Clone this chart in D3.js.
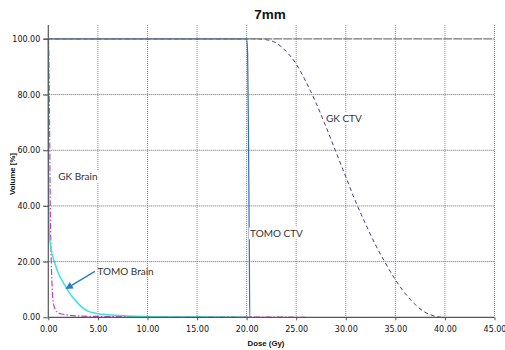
<!DOCTYPE html>
<html>
<head>
<meta charset="utf-8">
<script src="https://cdn.jsdelivr.net/npm/d3@7"></script>
<style>
  html, body { margin: 0; padding: 0; background: #fff; }
  svg { display: block; }
</style>
</head>
<body>
<svg id="chart" width="505" height="350"></svg>
<script>
// Dose-volume histogram, 7 mm case
const xTicks = [0, 5, 10, 15, 20, 25, 30, 35, 40, 45];
const yTicks = [0, 20, 40, 60, 80, 100];

const gkCtvDose = [0, 20, 21, 22, 23, 24, 25, 26, 27, 28, 29, 30, 31, 32, 33, 34, 35, 36, 37, 38, 39, 39.6];
const gkCtvVol  = [100, 100, 100, 99.7, 98.5, 95.5, 91, 84.5, 77, 68.5, 59.5, 50.5, 41.5, 33.5, 26, 19.5, 13.5, 8.5, 4.6, 1.8, 0.4, 0];

const tomoCtvDose = [0, 20.0, 20.1, 20.2, 20.28, 20.32, 20.5];
const tomoCtvVol  = [100, 100, 95, 60, 20, 0, 0];

const gkBrainDose = [0, 0.05, 0.1, 0.15, 0.2, 0.3, 0.4, 0.5, 0.7, 1.0, 1.5, 2.0, 3.0, 5.0, 10, 20, 26];
const gkBrainVol  = [100, 95, 80, 60, 40, 20, 10, 5.5, 2.8, 1.6, 1.1, 0.8, 0.5, 0.3, 0.2, 0.1, 0];

const tomoBrainDose = [0, 0.02, 0.05, 0.1, 0.2, 0.4, 0.7, 1.0, 1.5, 2.0, 2.5, 3.0, 3.5, 4.0, 5.0, 6.0, 8.0, 10, 14.5, 20];
const tomoBrainVol  = [100, 60, 35, 30, 26.5, 22.5, 19, 16, 12.5, 9.5, 7, 5, 3.3, 2.2, 1.3, 0.9, 0.5, 0.3, 0.1, 0];

const series = [
  { name: "GK CTV",     dose: gkCtvDose,     vol: gkCtvVol,     color: "#3c3c8c", width: 1,   dash: "4,3" },
  { name: "GK Brain",   dose: gkBrainDose,   vol: gkBrainVol,   color: "#c63fc6", width: 1.2, dash: "6,2,1.5,2" },
  { name: "TOMO Brain", dose: tomoBrainDose, vol: tomoBrainVol, color: "#3fe0e0", width: 1.5, dash: null },
  { name: "TOMO CTV",   dose: tomoCtvDose,   vol: tomoCtvVol,   color: "#2f6db5", width: 1.2, dash: null }
];

const svg = d3.select("#chart");
const plot = { left: 48.3, right: 494.5, top: 25, bottom: 317.3 };

const x = d3.scaleLinear().domain([0, 45]).range([plot.left, plot.right]);
const y = d3.scaleLinear().domain([0, 105]).range([plot.bottom, plot.top]);

// Vertical grid lines
svg.append("g")
  .selectAll("line")
  .data(xTicks.filter(d => d > 0))
  .join("line")
  .attr("x1", d => x(d)).attr("x2", d => x(d))
  .attr("y1", y(105)).attr("y2", y(0))
  .attr("stroke", "#8a8a8a")
  .attr("stroke-width", 1)
  .attr("stroke-dasharray", "1,1");

// Curves
const line = d3.line()
  .x(d => x(d[0]))
  .y(d => y(d[1]))
  .curve(d3.curveMonotoneX);

series.forEach(s => {
  const pts = s.dose.map((d, i) => [d, s.vol[i]]);
  svg.append("path")
    .datum(pts)
    .attr("d", line)
    .attr("fill", "none")
    .attr("stroke", s.color)
    .attr("stroke-width", s.width)
    .attr("stroke-dasharray", s.dash);
});

// Horizontal grid lines, drawn over the curves
svg.append("g")
  .selectAll("line")
  .data(yTicks.filter(d => d > 0))
  .join("line")
  .attr("x1", x(0) - 5).attr("x2", x(45))
  .attr("y1", d => y(d)).attr("y2", d => y(d))
  .attr("stroke", d => d === 100 ? "#777" : "#666")
  .attr("stroke-width", d => d === 100 ? 1.3 : 1)
  .attr("stroke-dasharray", d => d === 100 ? "9,1" : "1,1");

// Axes
const xAxis = d3.axisBottom(x).tickValues(xTicks).tickFormat(d3.format(".2f")).tickSize(3);
const yAxis = d3.axisLeft(y).tickValues(yTicks).tickFormat(d3.format(".2f")).tickSize(5);

const gx = svg.append("g").attr("transform", `translate(0,${y(0)})`).call(xAxis);
const gy = svg.append("g").attr("transform", `translate(${x(0)},0)`).call(yAxis);

[gx, gy].forEach(g => {
  g.select(".domain").attr("stroke", "#555").attr("stroke-width", 1.2);
  g.selectAll(".tick line").attr("stroke", "#555");
  g.selectAll("text")
    .attr("fill", "#111")
    .style("font-family", "DejaVu Sans, sans-serif")
    .style("font-size", "8px");
});
gx.select(".domain").attr("d", `M${x(0)},0H${x(45)}`);
gx.selectAll(".tick text").attr("dy", "1.05em");
gy.select(".domain").attr("d", `M0,${y(105)}V${y(0)}`);
gy.selectAll(".tick text").attr("x", -8);

// Curve labels
const labelFont = "Lato, 'Open Sans', sans-serif";
const labels = [
  { text: "GK CTV",   dose: 28.0, vol: 71.5 },
  { text: "GK Brain", dose: 1.0,  vol: 50.5 },
  { text: "TOMO CTV", dose: 20.35, vol: 30 }
];
labels.forEach(l => {
  const t = svg.append("text")
    .attr("x", x(l.dose)).attr("y", y(l.vol))
    .attr("dy", "0.35em")
    .attr("fill", "#333")
    .style("font-family", labelFont)
    .style("font-size", "10px")
    .text(l.text);
  const b = t.node().getBBox();
  svg.insert("rect", () => t.node())
    .attr("x", b.x - 1).attr("y", b.y)
    .attr("width", b.width + 2).attr("height", b.height)
    .attr("fill", "#fff");
});

// Arrow pointing at the TOMO Brain curve
svg.append("defs").append("marker")
  .attr("id", "arrowhead")
  .attr("viewBox", "0 0 10 10")
  .attr("refX", 8).attr("refY", 5)
  .attr("markerWidth", 5).attr("markerHeight", 5)
  .attr("orient", "auto")
  .append("path")
  .attr("d", "M0,0L10,5L0,10Z")
  .attr("fill", "#2a7fc4");

svg.append("line")
  .attr("x1", x(4.7)).attr("y1", y(16.5))
  .attr("x2", x(1.85)).attr("y2", y(10.4))
  .attr("stroke", "#2a7fc4")
  .attr("stroke-width", 1.5)
  .attr("marker-end", "url(#arrowhead)");

svg.append("text")
  .attr("x", x(4.95)).attr("y", y(16.6))
  .attr("dy", "0.35em")
  .attr("fill", "#333")
  .style("font-family", labelFont)
  .style("font-size", "10px")
  .text("TOMO Brain");

// Title and axis titles
svg.append("text")
  .attr("x", 270).attr("y", 19)
  .attr("text-anchor", "middle")
  .attr("fill", "#111")
  .style("font-family", "'Liberation Sans', Arial, sans-serif")
  .style("font-weight", "bold")
  .style("font-size", "13.5px")
  .text("7mm");

svg.append("text")
  .attr("x", 266).attr("y", 346)
  .attr("text-anchor", "middle")
  .attr("fill", "#111")
  .style("font-family", "'Liberation Sans', Arial, sans-serif")
  .style("font-weight", "bold")
  .style("font-size", "7.8px")
  .text("Dose (Gy)");

svg.append("text")
  .attr("transform", "translate(15,174) rotate(-90)")
  .attr("text-anchor", "middle")
  .attr("fill", "#111")
  .style("font-family", "'Liberation Sans', Arial, sans-serif")
  .style("font-weight", "bold")
  .style("font-size", "7.8px")
  .text("Volume [%]");
</script>
</body>
</html>
